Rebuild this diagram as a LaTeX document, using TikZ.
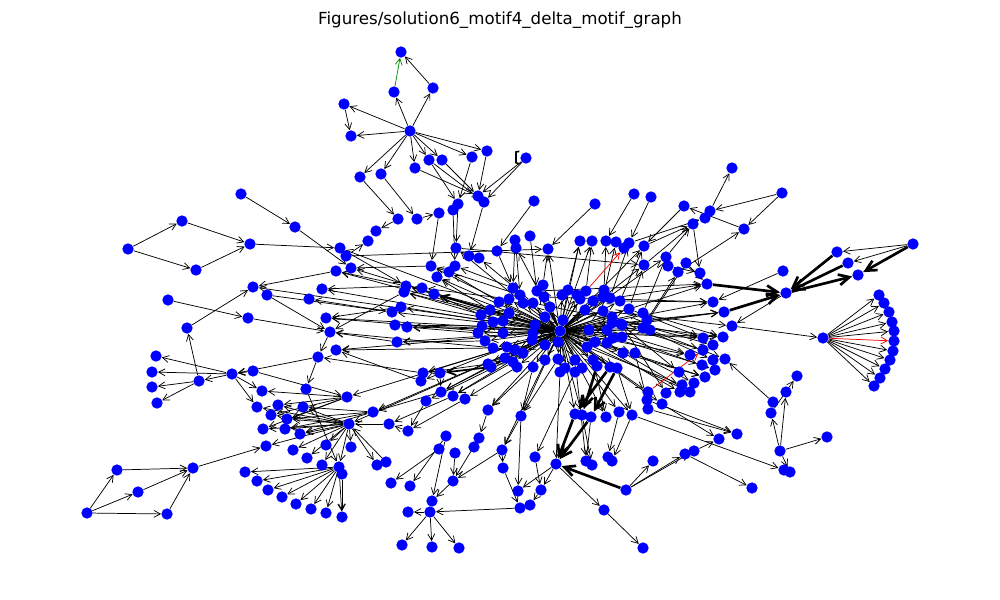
\documentclass[tikz,border=0pt]{standalone}
\usepackage{fontspec}
\setmainfont{DejaVu Sans}
\usetikzlibrary{arrows.meta,backgrounds}
\begin{document}
\begin{tikzpicture}[x=0.75pt,y=-0.75pt,
 v/.style={circle,fill=blue,draw=none,inner sep=0pt,minimum size=8.5pt},
 e/.style={-{Straight Barb[length=4.8pt,width=5.2pt]},line width=0.55pt,black},
 re/.style={e,red},
 ge/.style={e,green!55!black},
 me/.style={-{Straight Barb[length=6pt,width=6pt]},line width=1.3pt,black},
 te/.style={-{Straight Barb[length=8pt,width=8pt]},line width=2pt,black}]
\useasboundingbox (0,0) rectangle (1000,600);
\node[font=\fontsize{12.5}{15}\selectfont] (title) at (500,20) {Figures/solution6\_motif4\_delta\_motif\_graph};
\foreach \n/\x/\y in {
t1/401/52,t2/394/92,t3/433/88,t4/410/131,t5/344/104,t6/351/136,t7/360/177,t8/381/174,t9/415/168,t10/429/160,t11/442/160,t12/472/157,t13/487/151,t14/526/158,t15/478/196,t16/484/202,t17/458/204,t18/453/210,t19/534/201,t20/398/219,t21/417/219,t22/439/213,
b1/241/194,b2/295/227,b3/182/221,b4/128/249,b5/196/270,b6/250/244,b7/168/300,b8/187/328,b9/248/318,b10/253/287,b11/267/295,
c1/340/248,c2/346/256,c3/368/241,c4/376/231,c5/351/268,c6/336/271,c7/322/289,c8/309/299,c9/326/318,c10/330/332,c11/336/350,c12/318/357,c13/253/371,c14/232/374,c16/262/391,c17/306/389,c18/347/397,c19/431/266,c20/456/248,c21/437/277,c22/449/272,c23/406/286,c24/404/292,c25/422/288,c26/434/294,c27/392/312,c28/401/307,c29/395/325,c30/407/327,c31/397/342,c32/423/373,c33/440/373,c34/421/381,c35/455/266,
m1/530/236,m2/515/240,m3/516/248,m4/497/251,m5/548/249,m6/469/256,m7/479/258,
d1/156/356,d2/152/372,d3/152/387,d4/157/403,d5/199/381,d6/373/412,d7/257/407,d8/278/405,d9/271/415,d10/287/419,d11/303/407,d12/263/429,d13/285/429,d14/300/434,d15/349/424,d16/266/446,d17/326/445,d18/351/447,d19/293/450,d20/307/458,d21/322/465,d22/339/467,d23/342/474,d24/377/465,d25/245/472,d26/257/481,d27/268/490,d28/282/497,d29/296/504,d30/311/509,d31/326/513,d32/342/517,d33/193/468,d34/117/470,d35/138/492,d36/87/513,d37/167/514,
e1/441/392,e2/453/396,e3/465/399,e4/426/401,e5/389/424,e6/408/431,e7/446/436,e8/439/449,e9/455/453,e10/479/438,e11/474/447,e12/488/410,e13/521/416,e14/502/450,e15/535/457,e16/556/464,e17/503/468,e18/391/483,e19/410/486,e20/453/481,e21/432/501,e22/430/512,e23/408/512,e24/518/491,e25/541/490,e26/520/508,e27/530/505,e28/402/545,e29/432/547,e30/459/548,e31/604/510,e32/643/548,e33/626/490,e34/653/461,e35/586/461,e36/592/465,e37/608/457,e38/612/461,e39/386/462,
h/560/331,
k1/513/288,k2/520/295,k3/537/291,k4/543/285,k5/544/297,k6/533/303,k7/523/303,k8/509/299,k9/499/302,k10/490/310,k11/481/315,k12/509/313,k13/503/321,k14/493/322,k15/482/326,k16/478/333,k17/503/333,k18/485/341,k19/493/348,k20/507/347,k21/515/350,k22/523/353,k23/535/325,k24/533/333,k25/532/340,k26/545/317,k27/550/307,k28/563/320,k29/558/342,k30/545/345,k31/545/360,k32/558/359,k33/533/367,k34/517/367,k35/505/358,k36/488/364,k37/568/290,k38/577/295,k39/562/295,k40/575/360,k41/560/372,k42/575/372,k43/491/367,k44/513/362,
r1/586/291,r2/580/299,r4/593/301,r5/604/290,r6/603/297,r7/610/298,r8/620/301,r9/629/309,r10/585/310,r11/603/311,r12/612/317,r13/621/324,r14/643/313,r15/647/320,r16/643/328,r17/650/330,r18/607/330,r19/589/330,r20/595/342,r21/587/347,r22/613/338,r23/622/337,r24/607/343,r25/623/353,r26/635/353,r28/565/368,r30/582/368,r31/593/360,r32/597/366,r33/610/367,r34/617/368,r35/612/323,r36/622/325,
u1/595/204,u2/634/194,u3/651/197,u4/580/241,u5/592/241,u6/606/241,u7/616/242,u8/624/248,u9/629/243,u10/644/246,u12/644/265,u13/666/257,u14/668/266,u15/678/272,u16/686/263,u17/693/224,u18/700/273,u19/707/284,u20/713/302,u21/684/206,u22/710/211,u23/705/218,u24/732/168,u25/782/193,u26/744/229,u27/783/271,u28/724/312,u29/732/326,
w1/703/338,w3/723/337,w4/690/355,w5/702/365,w6/713/360,w7/725/359,w8/715/370,w9/705/377,w10/694/383,w11/690/392,w12/680/392,w13/682/385,w14/679/372,w15/666/393,w16/662/404,w17/648/392,w18/648/409,w20/703/350,w21/713/345,
f1/575/414,f2/582/415,f3/591/417,f4/606/417,f5/619/412,f6/632/415,f7/647/400,
x1/797/376,x2/786/392,x3/773/402,x4/771/413,x5/737/434,x6/719/439,x7/827/437,x8/780/451,x9/694/451,x10/685/454,x11/784/470,x12/790/472,x13/752/488,
p1/786/293,p2/823/338,q1/913/244,q2/837/252,q3/848/263,q4/858/275,
s1/879/295,s2/884/303,s3/889/312,s4/892/322,s5/894/331,s6/894/341,s7/893/351,s8/890/360,s9/885/369,s10/880/378,s11/874/386}
 \node[v] (\n) at (\x,\y) {};
\begin{scope}[on background layer]
\foreach \t in {k1,k2,k3,k4,k5,k6,k7,k8,k9,k10,k11,k12,k13,k14,k15,k16,k17,k18,k19,k20,k21,k22,k23,k24,k25,k26,k27,k28,k29,k30,k31,k32,k33,k34,k35,k36,k37,k38,k39,k40,k41,k42,k43,k44,
 r1,r2,r4,r5,r6,r7,r8,r9,r10,r11,r12,r13,r14,r15,r16,r17,r18,r19,r20,r21,r22,r23,r24,r25,r26,r28,r30,r31,r32,r33,r34,r35,r36,
 c1,c5,c6,c7,c9,c19,c21,c23,c24,c27,c29,c30,c31,c32,e1,e2,e12,e13,e14,f1,f2,f4,f5,f6,w1,w3,w4,w9,w11,w16,w17,u19,u20,u28,u4,u5,u10,u12,u13,m5,m3,d6,d15,c11,c18,b10}
 \draw[e] (h) -- (\t);
\foreach \a/\b in {
t3/t1,t4/t2,t4/t3,t4/t5,t5/t6,t4/t6,t4/t7,t4/t8,t4/t9,t4/t10,t4/t11,t4/t12,t4/t13,t7/t20,t8/t21,t21/t22,t9/t15,t10/t17,t11/t15,t12/t17,t13/t15,t14/t15,t14/t16,t10/t16,t20/c4,t17/c20,t18/c35,t16/m6,t19/m4,t22/c19,m4/k1,m2/k1,m3/k2,m1/k3,c20/u12,c2/m5,
b4/b3,b4/b5,b3/b6,b5/b6,b6/c1,b1/b2,b2/c5,b7/b9,b8/b10,c6/b10,b11/c10,b11/c27,b9/c10,c24/c10,c10/c12,c12/c14,c12/c17,c32/c12,c13/c14,c14/d5,c2/c3,c1/c23,c23/c6,c23/c7,c27/c8,c19/c5,c28/c9,c31/c10,c34/c11,
d36/d34,d36/d35,d36/d37,d34/d33,d35/d33,d37/d33,d33/d16,c14/d1,c14/d2,d5/d3,d5/d4,d5/b8,c14/c16,c14/d7,c13/c18,c18/c16,c18/d8,c18/d9,c18/d10,c18/d12,
d15/d7,d15/d8,d15/d9,d15/d10,d15/d11,d15/d12,d15/d13,d15/d14,d15/d16,d15/d17,d15/d18,d15/d19,d15/d20,d15/d21,d15/d22,d15/d24,c17/d22,
d22/d25,d22/d26,d22/d27,d22/d28,d22/d29,d22/d30,d22/d31,d22/d32,d23/d32,
d6/d10,d6/d13,d6/d14,d6/d11,e1/d6,e5/d15,e39/d15,e4/e6,e6/e5,c33/e1,e3/e6,e2/e5,e7/e19,e8/e18,e10/e20,e12/e10,e13/e14,e14/e17,e15/e25,e17/e26,e14/e20,e9/e20,
e22/e28,e22/e29,e22/e30,e22/e23,e7/e21,e20/e21,e26/e22,e13/e24,e16/e24,e16/e25,e25/e27,e16/e31,e31/e32,e33/e34,
k11/c26,k10/c21,k9/c22,k16/c30,k18/c31,k36/c32,k15/c29,k14/c28,k13/c24,k8/c25,k1/c35,k2/c19,k12/c23,k17/c9,k19/c11,k20/c34,k35/e1,k44/e2,k34/e3,k33/e12,k22/e4,k21/c10,k7/c20,k6/m7,k33/e13,k41/e16,k40/e35,r31/f4,r34/f6,r26/f7,k42/e15,k32/e13,f2/e36,f3/e35,f5/e37,f6/e38,
k37/u4,r1/u5,r5/u6,r6/u7,r7/u9,r8/u10,k4/m5,r9/u12,r14/u13,r15/u15,r16/u16,
k3/u19,k5/u20,k6/w1,r4/u19,r8/u20,r9/w1,r14/w3,r15/u28,r16/w6,r17/w7,r18/w4,r22/w5,r23/w8,r25/w9,r26/w10,r24/w11,r12/w14,r13/w15,r19/u28,r10/w21,r20/w12,r21/w13,r11/u29,r35/w20,r36/w3,
u1/m5,u2/u6,u3/u9,u26/u21,u22/u24,u25/u22,u25/u26,u15/u26,u13/u17,u17/u18,u10/u17,u12/u17,u21/u10,u9/u23,u14/u18,u16/u19,u27/u20,p1/u29,u29/p2,q1/q2,q1/q3,
f6/x11,f7/x5,w16/x6,x10/x13,w18/x5,x8/x7,x8/x2,x8/x4,x4/x1,x3/w7,e33/x10,e33/x9,x8/x12,x9/x6,
p2/s1,p2/s2,p2/s3,p2/s4,p2/s5,p2/s7,p2/s8,p2/s9,p2/s10,p2/s11}
 \draw[e] (\a) -- (\b);
\draw[me] (h) -- (c26);
\draw[me] (k43) -- (c33);
\draw[ge] (t2) -- (t1);
\draw[re] (r1) -- (u8);
\draw[re] (w17) -- (w20);
\draw[re] (p2) -- (s6);
\foreach \a/\b in {q1/q4,q2/p1,q3/p1,p1/q4,u19/p1,u28/p1,r33/f1,r34/f3,r32/f2,f1/e16,f3/e16,e33/e16}
 \draw[te] (\a) -- (\b);
\draw[line width=1.2pt] ([shift={(-5pt,5pt)}]t14.center) -- ++(-2.5pt,-0.5pt) -- ++(0,-8pt) -- ++(2.5pt,-1pt);
\end{scope}
\end{tikzpicture}
\end{document}
